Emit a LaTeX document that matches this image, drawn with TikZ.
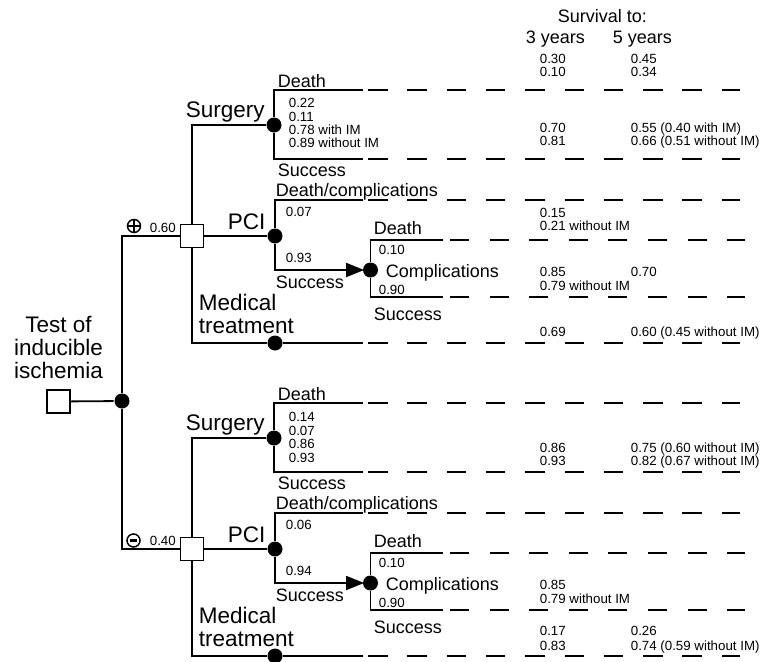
\documentclass[tikz,border=0pt]{standalone}
\usepackage{fontspec}
\setmainfont{Liberation Sans}
\usetikzlibrary{arrows.meta}
\begin{document}
\begin{tikzpicture}[x=1pt,y=-1pt,
  line width=1.8pt,
  dbox/.style={draw, fill=white, rectangle, minimum size=23pt, inner sep=0pt},
  chance/.style={fill=black, circle, minimum size=15pt, inner sep=0pt},
  big/.style={font=\fontsize{22.5}{27}\selectfont, inner sep=0pt, anchor=base west},
  mid/.style={font=\fontsize{18}{21}\selectfont, inner sep=0pt, anchor=base west},
  small/.style={font=\fontsize{13.3}{16}\selectfont, inner sep=0pt, anchor=base west},
  tail/.style={dash pattern=on 19.5pt off 19.8pt, dash phase=34.3pt},
  tailin/.style={dash pattern=on 19pt off 20.6pt, dash phase=32.6pt},
  sign/.style={draw, circle, minimum size=13pt, inner sep=0pt, line width=1.5pt},
  arr/.style={-{Triangle[length=18pt,width=14pt]}, shorten >=-2pt},
]
\useasboundingbox (0,0) rectangle (764,662);

% root: test and its chance node
\node[dbox] (test) at (58.5,401.5) {};
\node[chance] (c0) at (122,401) {};
\node[big, anchor=base] (t1) at (58.5,332) {Test of};
\node[big, anchor=base] (t2) at (58.5,355) {inducible};
\node[big, anchor=base] (t3) at (58.5,378) {ischemia};

% column headings
\node[mid] (hd) at (557,22) {Survival to:};
\node[mid] (h3) at (525,43) {3 years};
\node[mid] (h5) at (612,43) {5 years};

% the two test outcomes share the same subtree
\foreach \h/\oy in {A/0,B/313}{
  \node[dbox] (d\h) at (192,236+\oy) {};
  \node[chance] (s\h) at (274,125+\oy) {};
  \node[chance] (p\h) at (275,236+\oy) {};
  \node[chance] (m\h) at (275,343+\oy) {};
  \node[chance] (k\h) at (370.5,270+\oy) {};
  \coordinate (sd\h) at (363,90+\oy);   \coordinate (sde\h) at (740,90+\oy);
  \coordinate (ss\h) at (363,159+\oy);  \coordinate (sse\h) at (740,159+\oy);
  \coordinate (pd\h) at (363,200+\oy);  \coordinate (pde\h) at (740,200+\oy);
  \coordinate (kd\h) at (443,240+\oy);  \coordinate (kde\h) at (745,240+\oy);
  \coordinate (ks\h) at (443,297+\oy);  \coordinate (kse\h) at (745,297+\oy);
  \coordinate (me\h) at (363,343+\oy);  \coordinate (mee\h) at (740,343+\oy);

  \draw (d\h) |- (s\h);
  \draw (d\h) -- (p\h);
  \draw (d\h) |- (m\h);
  \draw (s\h) |- (sd\h);  \draw[tail] (sd\h) -- (sde\h);
  \draw (s\h) |- (ss\h);  \draw[tail] (ss\h) -- (sse\h);
  \draw (p\h) |- (pd\h);  \draw[tail] (pd\h) -- (pde\h);
  \draw[arr] (p\h) |- (k\h);
  \draw (k\h) |- (kd\h);  \draw[tailin] (kd\h) -- (kde\h);
  \draw (k\h) |- (ks\h);  \draw[tailin] (ks\h) -- (kse\h);
  \draw (m\h) -- (me\h);  \draw[tail] (me\h) -- (mee\h);

  \node[big] (ls\h) at (185,117+\oy) {Surgery};
  \node[big] (lp\h) at (227,229+\oy) {PCI};
  \node[big] (lm\h) at (198,310+\oy) {Medical};
  \node[big] (lt\h) at (198,333+\oy) {treatment};
  \node[mid] (sD\h) at (277,87+\oy) {Death};
  \node[mid] (sS\h) at (277,176+\oy) {Success};
  \node[mid] (pD\h) at (275,196+\oy) {Death/complications};
  \node[mid] (pS\h) at (275,288+\oy) {Success};
  \node[mid] (kD\h) at (373,234+\oy) {Death};
  \node[mid] (kC\h) at (385,277+\oy) {Complications};
  \node[mid] (kS\h) at (373,320+\oy) {Success};
}

\draw (test) -- (c0);
\draw (c0) |- (dA);
\draw (c0) |- (dB);

% outcome signs and probabilities of the test
\node[sign] (plus) at (134,226) {};
\draw[line width=1.5pt] (plus.west) -- (plus.east) (plus.north) -- (plus.south);
\node[small] (q1) at (149,232) {0.60};
\node[sign] (minus) at (133.5,540.5) {};
\fill ([xshift=-3.8pt,yshift=-1.9pt]minus.center) rectangle ([xshift=3.8pt,yshift=1.9pt]minus.center);
\node[small] (q2) at (149,545) {0.40};

% positive test: branch probabilities
\node[small] (a1) at (288,107) {0.22};
\node[small] (a2) at (288,121) {0.11};
\node[small] (a3) at (288,134) {0.78 with IM};
\node[small] (a4) at (288,147) {0.89 without IM};
\node[small] (a5) at (285,216) {0.07};
\node[small] (a6) at (285,262) {0.93};
\node[small] (a7) at (378,254) {0.10};
\node[small] (a8) at (378,294) {0.90};

% positive test: survival
\node[small] (r1) at (539,63) {0.30};
\node[small] (r2) at (539,76) {0.10};
\node[small] (r3) at (630,63) {0.45};
\node[small] (r4) at (630,76) {0.34};
\node[small] (r5) at (539,132) {0.70};
\node[small] (r6) at (539,145) {0.81};
\node[small] (r7) at (630,132) {0.55 (0.40 with IM)};
\node[small] (r8) at (630,145) {0.66 (0.51 without IM)};
\node[small] (r9) at (539,217) {0.15};
\node[small] (r10) at (539,230) {0.21 without IM};
\node[small] (r11) at (539,276) {0.85};
\node[small] (r12) at (630,276) {0.70};
\node[small] (r13) at (539,290) {0.79 without IM};
\node[small] (r14) at (539,336) {0.69};
\node[small] (r15) at (630,336) {0.60 (0.45 without IM)};

% negative test: branch probabilities
\node[small] (b1) at (288,421) {0.14};
\node[small] (b2) at (288,435) {0.07};
\node[small] (b3) at (288,448) {0.86};
\node[small] (b4) at (288,462) {0.93};
\node[small] (b5) at (285,529) {0.06};
\node[small] (b6) at (285,575) {0.94};
\node[small] (b7) at (378,567) {0.10};
\node[small] (b8) at (378,607) {0.90};

% negative test: survival
\node[small] (u1) at (539,452) {0.86};
\node[small] (u2) at (539,465) {0.93};
\node[small] (u3) at (630,452) {0.75 (0.60 without IM)};
\node[small] (u4) at (630,465) {0.82 (0.67 without IM)};
\node[small] (u5) at (539,589) {0.85};
\node[small] (u6) at (539,603) {0.79 without IM};
\node[small] (u7) at (539,635) {0.17};
\node[small] (u8) at (539,650) {0.83};
\node[small] (u9) at (630,635) {0.26};
\node[small] (u10) at (630,650) {0.74 (0.59 without IM)};
\end{tikzpicture}
\end{document}
